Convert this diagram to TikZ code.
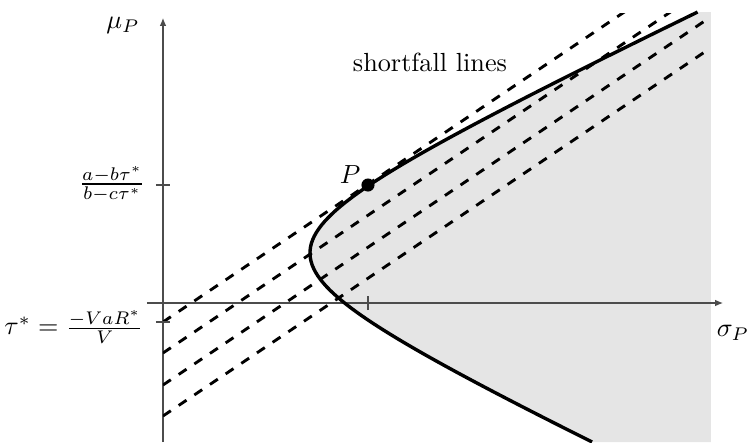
\documentclass[tikz,border=0pt]{standalone}
\usepackage{amsmath}
\usetikzlibrary{arrows.meta}

\begin{document}
\begin{tikzpicture}[x=1.341cm, y=1.341cm,
    axis/.style={black!70, -{Latex[length=3pt,width=2.5pt]}},
    shortfall/.style={line width=1.1pt, dash pattern=on 3.6pt off 3.6pt},
    frontier/.style={line width=1.3pt},
    tickmark/.style={black!70},
    dot/.style={circle, fill, inner sep=0pt, minimum size=5pt}]
    \useasboundingbox (-1.63,-1.39) rectangle (5.86,3.03);

    % Feasible region
    \fill[gray!20] plot[domain=-1.39:2.91, samples=120] ({sqrt(2.16+4.55*(\x-0.50)^2)}, \x)
        -- (5.48,2.91) -- (5.48,-1.39) -- cycle;

    % Axes
    \draw[axis] (-0.16,0) -- (5.60,0);
    \draw[axis] (0,-1.39) -- (0,2.85);
    \node (sigmaP) at (5.70,-0.30) {$\sigma_P$};
    \node (muP) at (-0.40,2.78) {$\mu_P$};

    % Shortfall lines
    \begin{scope}
        \clip (0,-1.39) rectangle (5.44,2.90);
        \foreach \c in {-0.19,-0.50,-0.82,-1.13}
            \draw[shortfall] (0,\c) -- ++(6,4.032);
    \end{scope}
    \node (lines) at (2.67,2.41) {shortfall lines};

    % Efficient frontier
    \draw[frontier] plot[domain=-1.39:2.91, samples=120] ({sqrt(2.16+4.55*(\x-0.50)^2)}, \x);

    % Ticks and labels
    \draw[tickmark] (-0.07,1.18) -- (0.07,1.18);
    \draw[tickmark] (-0.07,-0.19) -- (0.07,-0.19);
    \draw[tickmark] (2.05,-0.07) -- (2.05,0.07);
    \node (muStar) at (-0.51,1.19) {$\frac{a-b\tau^*}{b-c\tau^*}$};
    \node (tauStar) at (-0.89,-0.24) {$\tau^* = \frac{-VaR^*}{V}$};

    % Tangency point
    \node[dot] (P) at (2.05,1.18) {};
    \node (Plabel) at (1.87,1.28) {$P$};
\end{tikzpicture}
\end{document}
